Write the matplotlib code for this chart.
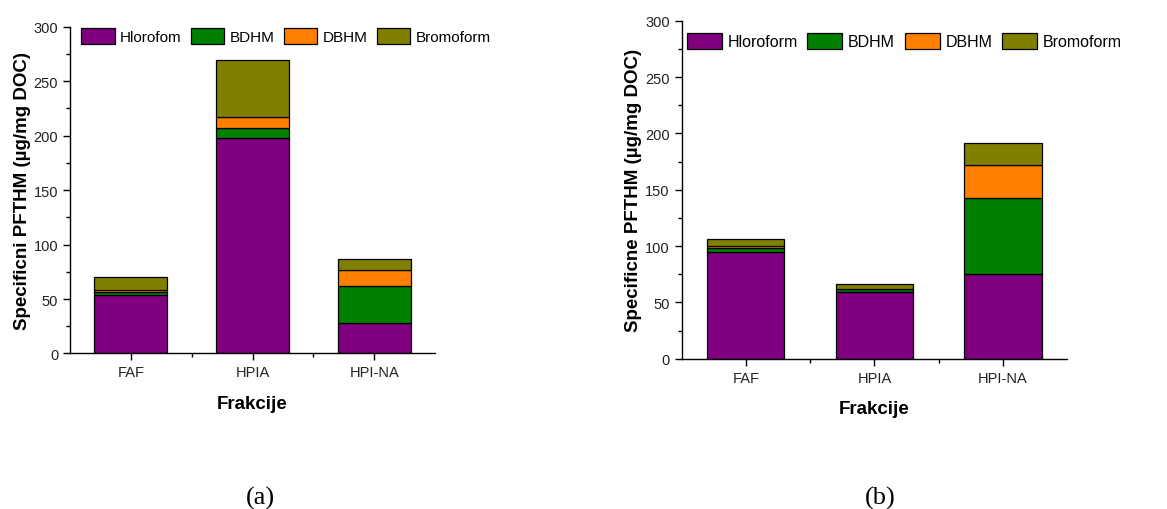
import matplotlib
matplotlib.use("Agg")
from matplotlib import pyplot as plt
from matplotlib.ticker import MultipleLocator, FixedLocator
import numpy as np

plt.rcParams['font.family'] = ['Liberation Sans', 'DejaVu Sans']

fractions = ['FAF', 'HPIA', 'HPI-NA']
colors = ['#800080', '#008000', '#FF8000', '#808000']

# (a) specific THM formation potential
labels_a = ['Hlorofom', 'BDHM', 'DBHM', 'Bromoform']
hloroform_a = [53.8, 197.7, 27.9]
bdhm_a = [2.5, 9.2, 33.6]
dbhm_a = [1.6, 10.7, 14.7]
bromoform_a = [11.9, 51.8, 10.7]

# (b)
labels_b = ['Hloroform', 'BDHM', 'DBHM', 'Bromoform']
hloroform_b = [95.0, 59.1, 74.9]
bdhm_b = [3.2, 2.6, 67.4]
dbhm_b = [1.8, 0.4, 29.6]
bromoform_b = [6.0, 3.9, 19.2]


def draw(ax, series, labels, ylabel, leg_anchor, leg_size):
    x = np.arange(len(fractions))
    bottom = np.zeros(len(fractions))
    for vals, lab, col in zip(series, labels, colors):
        ax.bar(x, vals, 0.6, bottom=bottom, color=col, edgecolor='black',
               linewidth=0.9, label=lab)
        bottom += np.array(vals)
    ax.set_xlim(-0.5, 2.5)
    ax.set_ylim(0, 300)
    ax.set_xticks(x)
    ax.set_xticklabels(fractions)
    ax.xaxis.set_minor_locator(FixedLocator([0.5, 1.5]))
    ax.yaxis.set_major_locator(MultipleLocator(50))
    ax.yaxis.set_minor_locator(MultipleLocator(25))
    ax.tick_params(which='major', direction='out', length=5, width=1,
                   labelsize=10.5, labelcolor='#222222')
    ax.tick_params(which='minor', direction='out', length=3, width=1)
    for s in ['top', 'right']:
        ax.spines[s].set_visible(False)
    for s in ['left', 'bottom']:
        ax.spines[s].set_linewidth(1.0)
    ax.set_xlabel('Frakcije', fontsize=13.5, fontweight='bold', labelpad=11)
    ax.set_ylabel(ylabel, fontsize=13.5, fontweight='bold', labelpad=2)
    ax.legend(loc='upper left', bbox_to_anchor=leg_anchor, ncol=4,
              frameon=False, fontsize=leg_size, handlelength=2.2,
              handleheight=1.2, handletextpad=0.35, columnspacing=0.6,
              borderpad=0, borderaxespad=0)


fig = plt.figure(figsize=(11.67, 5.1), dpi=100)

ax1 = fig.add_axes([0.060, 0.305, 0.3128, 0.6404])
draw(ax1, [hloroform_a, bdhm_a, dbhm_a, bromoform_a], labels_a,
     'Specificni PFTHM (µg/mg DOC)', (0.03, 0.995), 11)

ax2 = fig.add_axes([0.5841, 0.2947, 0.3304, 0.6627])
draw(ax2, [hloroform_b, bdhm_b, dbhm_b, bromoform_b], labels_b,
     'Specificne PFTHM (µg/mg DOC)', (0.013, 0.965), 11.5)

fig.text(260 / 1167, 1 - 498 / 510, '(a)', ha='center', va='center',
         fontsize=19, family=['Liberation Serif', 'DejaVu Serif'])
fig.text(880 / 1167, 1 - 498 / 510, '(b)', ha='center', va='center',
         fontsize=19, family=['Liberation Serif', 'DejaVu Serif'])

fig.savefig('out.png', dpi=100)
